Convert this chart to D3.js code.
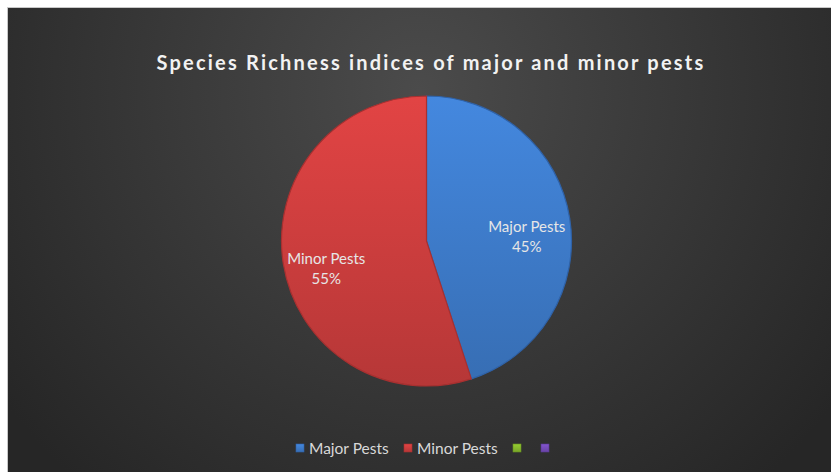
<!DOCTYPE html>
<html>
<head>
<meta charset="utf-8">
<script src="https://cdn.jsdelivr.net/npm/d3@7"></script>
<style>
  body { margin: 0; background: #fff; }
  svg text { font-family: Lato, "Open Sans", sans-serif; }
</style>
</head>
<body>
<div class="chart"></div>
<script>
var svgWidth = 831;
var svgHeight = 472;

var categories = ["Major Pests", "Minor Pests", "", ""];
var values = [45, 55, 0, 0];
var colors = ["#3f7fd0", "#d23f3f", "#8cbf2f", "#7a4fc0"];
var darkColors = ["#2f62a8", "#a83030", "#6a9420", "#5a3a98"];
var titleText = "Species Richness indices of major and minor pests";

var svg = d3.select(".chart")
  .append("svg")
  .attr("width", svgWidth)
  .attr("height", svgHeight);

var defs = svg.append("defs");

// background gradient
var bg = defs.append("radialGradient")
  .attr("id", "bg")
  .attr("gradientUnits", "userSpaceOnUse")
  .attr("cx", 420).attr("cy", 90).attr("r", 520);
bg.append("stop").attr("offset", "0%").attr("stop-color", "#4b4b4b");
bg.append("stop").attr("offset", "100%").attr("stop-color", "#262626");

colors.forEach(function(c, i) {
  var g = defs.append("linearGradient")
    .attr("id", "slice" + i)
    .attr("x1", 0).attr("y1", 0).attr("x2", 0).attr("y2", 1);
  g.append("stop").attr("offset", "0%").attr("stop-color", d3.color(c).brighter(0.2));
  g.append("stop").attr("offset", "100%").attr("stop-color", d3.color(c).darker(0.4));
});

svg.append("rect")
  .attr("x", 7.5).attr("y", 7.5)
  .attr("width", svgWidth).attr("height", svgHeight)
  .attr("fill", "url(#bg)")
  .attr("stroke", "#c8c8c8");

// title
svg.append("text")
  .attr("x", 431)
  .attr("y", 70)
  .attr("text-anchor", "middle")
  .attr("fill", "#f2f2f2")
  .style("font-size", "20px")
  .style("font-weight", "bold")
  .style("letter-spacing", "2.2px")
  .text(titleText);

var radius = 145;
var chart = svg.append("g")
  .attr("transform", "translate(426.5,241)");

var pie = d3.pie().sort(null).value(function(d) { return d; });
var arc = d3.arc().innerRadius(0).outerRadius(radius);
var arcs = pie(values);

chart.selectAll("path")
  .data(arcs.filter(function(d) { return d.value > 0; }))
  .enter()
  .append("path")
  .attr("d", arc)
  .attr("fill", function(d) { return "url(#slice" + d.index + ")"; })
  .attr("stroke", function(d) { return darkColors[d.index]; })
  .attr("stroke-width", 1.2);

// data labels
var labelArc = d3.arc().innerRadius(radius * 0.7).outerRadius(radius * 0.7);
var labels = chart.selectAll(".lbl")
  .data(arcs.filter(function(d) { return d.value > 0; }))
  .enter()
  .append("text")
  .attr("class", "lbl")
  .attr("transform", function(d) {
    var c = labelArc.centroid(d);
    return "translate(" + c[0] + "," + (c[1] + 11) + ")";
  })
  .attr("text-anchor", "middle")
  .attr("fill", "#e6e6e6")
  .style("font-size", "15px");
labels.append("tspan").attr("x", 0).attr("dy", "-0.25em")
  .text(function(d) { return categories[d.index]; });
labels.append("tspan").attr("x", 0).attr("dy", "1.3em")
  .text(function(d) { return d.value + "%"; });

// legend
var legendX = [296, 404, 513, 541];
var legend = svg.append("g").attr("transform", "translate(0,448)");
var items = legend.selectAll("g")
  .data(categories)
  .enter()
  .append("g")
  .attr("transform", function(d, i) { return "translate(" + legendX[i] + ",0)"; });
items.append("rect")
  .attr("x", 0).attr("y", -4)
  .attr("width", 8).attr("height", 8)
  .attr("fill", function(d, i) { return "url(#slice" + i + ")"; })
  .attr("stroke", function(d, i) { return darkColors[i]; })
  .attr("stroke-width", 0.6);
items.append("text")
  .attr("x", 13)
  .attr("y", 5.5)
  .attr("fill", "#d9d9d9")
  .style("font-size", "15.5px")
  .text(function(d) { return d; });
</script>
</body>
</html>
